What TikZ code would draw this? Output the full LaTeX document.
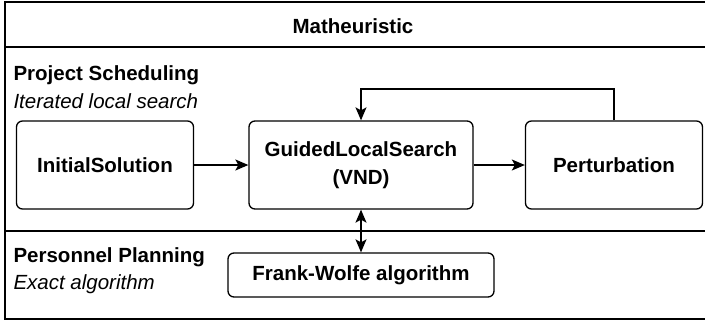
\documentclass[tikz,border=0pt]{standalone}
\usepackage{fontspec}
\setmainfont{Liberation Sans}
\usetikzlibrary{arrows.meta}

\begin{document}
\begin{tikzpicture}[x=1pt,y=-1pt]

\tikzset{
  StepBox/.style = { rectangle, rounded corners=6pt, draw, line width=1.3pt,
                     font = \bfseries\fontsize{20.5}{28}\selectfont, align=center },
  Lane/.style = { font = \fontsize{20.5}{24}\selectfont, anchor=west },
  Link/.style = { line width=1.3pt, -{Stealth[length=13pt,width=11pt,inset=3pt]} },
  BiLink/.style = { line width=1.3pt, {Stealth[length=13pt,width=11pt,inset=3pt]}-{Stealth[length=13pt,width=11pt,inset=3pt]} } }
  \useasboundingbox (0,0) rectangle (705,322);

  % frame and lanes
  \draw[line width=1.3pt] (5,2) rectangle (706,319);
  \draw[line width=1.3pt] (5,47) -- (706,47);
  \draw[line width=1.3pt] (5,231) -- (706,231);
  \node[font=\bfseries\fontsize{20.5}{24}\selectfont] (title) at (353,26) {Matheuristic};

  \node[Lane, font=\bfseries\fontsize{20.5}{24}\selectfont] (ps) at (10,75) {Project Scheduling};
  \node[Lane, font=\itshape\fontsize{20.5}{24}\selectfont] (ils) at (10,101) {Iterated local search};
  \node[Lane, font=\bfseries\fontsize{20.5}{24}\selectfont] (pp) at (10,257) {Personnel Planning};
  \node[Lane, font=\itshape\fontsize{20.5}{24}\selectfont] (ea) at (10,284) {Exact algorithm};

  % boxes
  \node[StepBox, minimum width=177pt, minimum height=88pt] (init) at (105,165) {InitialSolution};
  \node[StepBox, minimum width=224pt, minimum height=88pt] (gls) at (361,165) {GuidedLocalSearch\\(VND)};
  \node[StepBox, minimum width=177pt, minimum height=88pt] (pert) at (614,165) {Perturbation};
  \node[StepBox, minimum width=266pt, minimum height=44pt] (fw) at (361,275) {Frank-Wolfe algorithm};

  % connectors
  \coordinate (loopR) at (614,89);
  \coordinate (loopL) at (361,89);
  \draw[Link] (init) -- (gls);
  \draw[Link] (gls) -- (pert);
  \draw[Link] (pert.north) -- (loopR) -- (loopL) -- (gls.north);
  \draw[BiLink] (gls) -- (fw);

\end{tikzpicture}
\end{document}
